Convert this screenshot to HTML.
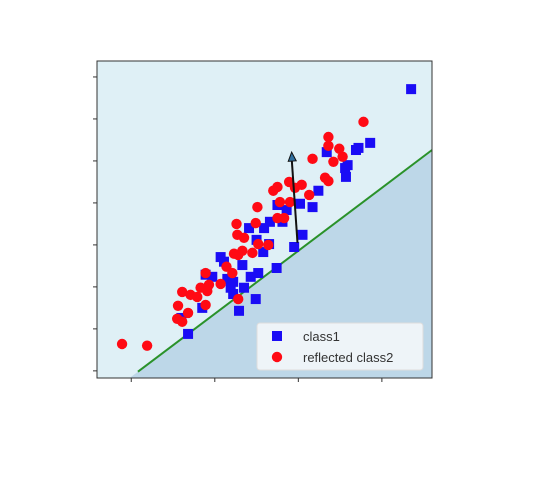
<!DOCTYPE html>
<html><head><meta charset="utf-8"><style>
body{margin:0;background:#fff;width:538px;height:480px;overflow:hidden}
svg{display:block;font-family:"Liberation Sans",sans-serif}
</style></head><body>
<svg id="chart" width="538" height="480"></svg>
<script>
const class1X=[3.35,2.86,2.72,2.69,2.34,2.59,2.56,2.57,2.24,2.17,2.02,1.75,1.86,1.81,1.66,1.59,1.41,2.05,1.50,1.65,1.58,1.95,1.07,1.11,1.33,1.74,1.52,1.43,0.97,0.89,1.15,1.22,1.35,1.19,1.22,1.49,0.85,1.29,0.68,0.60];
const class1Y=[6.71,5.43,5.31,5.26,5.21,4.90,4.83,4.62,4.29,3.90,3.98,3.95,3.83,3.55,3.55,3.40,3.40,3.24,3.12,3.02,2.83,2.95,2.71,2.60,2.52,2.45,2.33,2.24,2.24,2.29,2.19,2.12,1.98,1.98,1.83,1.71,1.50,1.43,0.88,1.26];
const class2X=[2.78,2.36,2.36,2.49,2.53,2.42,2.17,2.32,2.36,1.89,2.04,1.75,1.70,1.96,2.13,1.78,1.90,1.51,1.75,1.83,1.49,1.26,1.27,1.35,1.52,1.64,1.45,1.33,1.23,1.28,1.14,1.21,0.89,1.07,0.93,0.83,0.91,0.61,0.71,0.79,0.89,0.56,0.68,0.55,0.61,1.28,-0.11,0.19];
const class2Y=[5.93,5.57,5.36,5.29,5.10,4.98,5.05,4.60,4.52,4.50,4.43,4.38,4.29,4.36,4.19,4.02,4.02,3.90,3.64,3.64,3.52,3.50,3.24,3.17,3.02,3.00,2.81,2.86,2.79,2.76,2.48,2.33,2.33,2.07,2.05,1.98,1.90,1.88,1.81,1.76,1.57,1.55,1.38,1.24,1.17,1.71,0.64,0.60];
const boundarySlope=1.5, boundaryIntercept=-0.14;
const arrowStart=[1.99,3.05], arrowEnd=[1.92,5.21];
const xTicks=[0,1,2,3];
const yTicks=[0,1,2,3,4,5,6,7];

const L=97,R=432,T=61,B=378;
const xMin=-0.41,xMax=3.60,yMin=-0.17,yMax=7.38;
const sx=v=>L+(v-xMin)/(xMax-xMin)*(R-L);
const sy=v=>B-(v-yMin)/(yMax-yMin)*(B-T);
const NS="http://www.w3.org/2000/svg";
const svg=document.getElementById('chart');
function mk(tag,attrs,parent){const e=document.createElementNS(NS,tag);for(const k in attrs)e.setAttribute(k,attrs[k]);(parent||svg).appendChild(e);return e;}

const bg=mk('rect',{x:L,y:T,width:R-L,height:B-T,fill:'#dff0f6'});


// region below boundary
const x0=xMin,x1=xMax;
const xr=(yMin-boundaryIntercept)/boundarySlope;
const region=mk('polygon',{points:`${sx(xr)},${B} ${R},${B} ${R},${sy(boundarySlope*x1+boundaryIntercept)}`,fill:'#bdd7e8'});



const bx0=0.08;
const line=mk('line',{x1:sx(bx0),y1:sy(boundarySlope*bx0+boundaryIntercept),x2:sx(x1),y2:sy(boundarySlope*x1+boundaryIntercept),stroke:'#2a922a','stroke-width':2});



class1X.forEach((x,i)=>{const r=mk('rect',{x:sx(x)-5,y:sy(class1Y[i])-5,width:10,height:10,fill:'#1a0cf5'});

});
class2X.forEach((x,i)=>{const c=mk('circle',{cx:sx(x),cy:sy(class2Y[i]),r:5.2,fill:'#ff0a14'});

});

const ax=sx(arrowStart[0]),ay=sy(arrowStart[1]),bx=sx(arrowEnd[0]),by=sy(arrowEnd[1]);
const arr=mk('line',{x1:ax,y1:ay,x2:bx,y2:by+6,stroke:'#111','stroke-width':2});


const dx=bx-ax,dy=by-ay,len=Math.hypot(dx,dy),ux=dx/len,uy=dy/len;
const head=mk('polygon',{points:`${bx},${by} ${bx-ux*9-uy*4},${by-uy*9+ux*4} ${bx-ux*9+uy*4},${by-uy*9-ux*4}`,fill:'#2f6f9f',stroke:'#111','stroke-width':1});



xTicks.forEach(t=>{const k=mk('line',{x1:sx(t),x2:sx(t),y1:B,y2:B+4,stroke:'#333','stroke-width':1});

});
yTicks.forEach(t=>{const k=mk('line',{x1:L-4,x2:L,y1:sy(t),y2:sy(t),stroke:'#333','stroke-width':1});

});
const fr=mk('rect',{x:L,y:T,width:R-L,height:B-T,fill:'none',stroke:'#333','stroke-width':1});



const lg=mk('g',{});


mk('rect',{x:257,y:323,width:166,height:47,rx:3,fill:'#f3f7f9','fill-opacity':0.9,stroke:'#ddd'},lg);
mk('rect',{x:272,y:331,width:10,height:10,fill:'#1a0cf5'},lg);
mk('circle',{cx:277,cy:357,r:5.2,fill:'#ff0a14'},lg);
const t1=mk('text',{x:303,y:341,'font-size':13,fill:'#333'},lg);t1.textContent='class1';


const t2=mk('text',{x:303,y:362,'font-size':13,fill:'#333'},lg);t2.textContent='reflected class2';


</script>
</body></html>
